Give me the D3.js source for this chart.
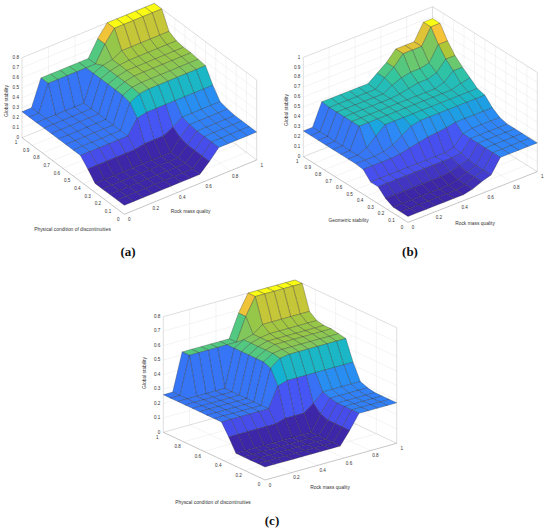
<!DOCTYPE html>
<html><head><meta charset="utf-8">
<script src="https://cdn.jsdelivr.net/npm/d3@7"></script>
<style>body{margin:0;background:#fff}svg{display:block}</style>
</head><body><svg id="fig" width="550" height="532"></svg>
<script>
// grid of the fuzzy surface (15 x 15 points, gensurf default)
const gridPts = [0, 0.0714, 0.1429, 0.2143, 0.2857, 0.3571, 0.4286, 0.5, 0.5714, 0.6429, 0.7143, 0.7857, 0.8571, 0.9286, 1];

// rows = second input (0 -> 1), columns = rock mass quality (0 -> 1)
const stabilityA = [
  [0.09,0.09,0.09,0.09,0.09,0.09,0.09,0.09,0.09,0.18,0.28,0.28,0.28,0.28,0.28],
  [0.09,0.09,0.09,0.09,0.09,0.09,0.09,0.09,0.09,0.18,0.28,0.28,0.28,0.28,0.28],
  [0.09,0.09,0.09,0.09,0.09,0.09,0.09,0.09,0.09,0.18,0.28,0.28,0.28,0.28,0.28],
  [0.09,0.09,0.09,0.09,0.09,0.09,0.09,0.09,0.09,0.18,0.28,0.28,0.28,0.28,0.28],
  [0.09,0.09,0.09,0.09,0.09,0.09,0.09,0.09,0.09,0.20,0.29,0.29,0.29,0.29,0.29],
  [0.18,0.18,0.18,0.18,0.18,0.18,0.20,0.20,0.20,0.25,0.31,0.31,0.31,0.31,0.31],
  [0.26,0.26,0.26,0.26,0.26,0.26,0.40,0.42,0.42,0.42,0.42,0.42,0.42,0.42,0.42],
  [0.26,0.26,0.26,0.26,0.26,0.26,0.50,0.55,0.56,0.56,0.56,0.56,0.56,0.56,0.56],
  [0.26,0.26,0.26,0.26,0.26,0.26,0.52,0.56,0.57,0.57,0.57,0.57,0.57,0.57,0.57],
  [0.26,0.26,0.26,0.26,0.26,0.26,0.52,0.56,0.58,0.58,0.58,0.58,0.58,0.58,0.58],
  [0.26,0.26,0.26,0.26,0.26,0.26,0.52,0.56,0.58,0.58,0.58,0.58,0.58,0.58,0.58],
  [0.26,0.26,0.26,0.26,0.26,0.26,0.52,0.56,0.58,0.59,0.59,0.59,0.59,0.59,0.59],
  [0.26,0.26,0.26,0.26,0.26,0.26,0.52,0.56,0.58,0.63,0.63,0.63,0.63,0.63,0.63],
  [0.26,0.26,0.52,0.52,0.52,0.52,0.52,0.52,0.68,0.80,0.80,0.80,0.80,0.80,0.80],
  [0.26,0.26,0.52,0.52,0.52,0.52,0.52,0.52,0.68,0.80,0.80,0.80,0.80,0.80,0.80]
];

const stabilityB = [
  [0.06,0.06,0.06,0.06,0.06,0.06,0.06,0.08,0.12,0.15,0.29,0.29,0.29,0.29,0.29],
  [0.06,0.06,0.06,0.06,0.06,0.06,0.06,0.08,0.12,0.15,0.29,0.29,0.29,0.29,0.29],
  [0.06,0.06,0.06,0.06,0.06,0.06,0.06,0.08,0.12,0.15,0.29,0.29,0.29,0.29,0.29],
  [0.10,0.10,0.10,0.10,0.10,0.10,0.10,0.11,0.14,0.16,0.29,0.29,0.29,0.29,0.29],
  [0.17,0.17,0.17,0.17,0.17,0.17,0.17,0.17,0.17,0.18,0.29,0.29,0.29,0.29,0.29],
  [0.17,0.17,0.17,0.17,0.17,0.17,0.17,0.17,0.17,0.19,0.29,0.31,0.31,0.31,0.31],
  [0.25,0.25,0.25,0.25,0.26,0.28,0.30,0.32,0.33,0.34,0.36,0.36,0.36,0.36,0.36],
  [0.26,0.26,0.26,0.27,0.30,0.36,0.42,0.44,0.44,0.44,0.44,0.44,0.44,0.44,0.44],
  [0.26,0.26,0.30,0.38,0.46,0.46,0.46,0.46,0.46,0.46,0.46,0.46,0.46,0.46,0.46],
  [0.26,0.26,0.47,0.47,0.47,0.47,0.47,0.47,0.47,0.47,0.47,0.47,0.47,0.50,0.52],
  [0.26,0.26,0.47,0.47,0.47,0.47,0.47,0.47,0.47,0.47,0.47,0.47,0.50,0.58,0.58],
  [0.26,0.26,0.47,0.47,0.47,0.47,0.47,0.47,0.48,0.50,0.52,0.52,0.55,0.65,0.65],
  [0.26,0.26,0.47,0.47,0.47,0.47,0.47,0.47,0.52,0.56,0.58,0.58,0.60,0.75,0.75],
  [0.26,0.26,0.47,0.47,0.47,0.47,0.47,0.47,0.55,0.62,0.72,0.72,0.72,0.88,0.88],
  [0.26,0.26,0.48,0.48,0.48,0.48,0.48,0.48,0.55,0.62,0.72,0.72,0.72,0.88,0.88]
];

const xTicks = [0, 0.2, 0.4, 0.6, 0.8, 1];
const yTicksFine = [0, 0.1, 0.2, 0.3, 0.4, 0.5, 0.6, 0.7, 0.8, 0.9, 1];
const yTicksCoarse = [0, 0.2, 0.4, 0.6, 0.8, 1];
const zTicksA = [0, 0.1, 0.2, 0.3, 0.4, 0.5, 0.6, 0.7, 0.8];
const zTicksB = [0, 0.1, 0.2, 0.3, 0.4, 0.5, 0.6, 0.7, 0.8, 0.9, 1];

const xTitle = 'Rock mass quality';
const zTitle = 'Global stability';
const yTitles = ['Physical condition of discontinuities', 'Geometric stability', 'Physcal condition of discontinuities'];
const captions = ['(a)', '(b)', '(c)'];

const PARULA = ['#3e26a8', '#4852f4', '#2e87f7', '#12b1d6', '#37c897', '#abc739', '#fec338', '#f9fb15'];

const panels = [
  { data: stabilityA, yTicks: yTicksFine, zTicks: zTicksA, zMax: 0.8, yTitle: yTitles[0], caption: captions[0],
    o: [124.3, 214.3], ex: [132.4, -54.3], ey: [-102.3, -76.6], zPx: 100,
    zLab: [7, 101], xLab: [190.5, 211.5], yLab: [72.5, 229.5], cap: [128, 256] },
  { data: stabilityB, yTicks: yTicksFine, zTicks: zTicksB, zMax: 1, yTitle: yTitles[1], caption: captions[1],
    o: [408, 222.4], ex: [129.3, -50.7], ey: [-104.7, -65.7], zPx: 99.3,
    zLab: [286.7, 110], xLab: [475, 223.3], yLab: [348.5, 220.5], cap: [410, 256] },
  { data: stabilityA, yTicks: yTicksCoarse, zTicks: zTicksA, zMax: 0.8, yTitle: yTitles[2], caption: captions[2],
    o: [265, 480], ex: [131.7, -36.7], ey: [-101.7, -47.7], zPx: 144.5,
    zLab: [145, 373], xLab: [330, 488], yLab: [213, 502.5], cap: [272, 525] }
];

const svg = d3.select('#fig');
const FONT = '"Liberation Sans", Arial, sans-serif';

function drawPanel(cfg) {
  const g = svg.append('g');
  const sx = d3.scaleLinear().domain([0, 1]).range([0, 1]);
  const sy = d3.scaleLinear().domain([0, 1]).range([0, 1]);
  const sz = d3.scaleLinear().domain([0, cfg.zMax]).range([0, cfg.zPx * cfg.zMax]);
  const P = (x, y, z) => [
    cfg.o[0] + cfg.ex[0] * sx(x) + cfg.ey[0] * sy(y),
    cfg.o[1] + cfg.ex[1] * sx(x) + cfg.ey[1] * sy(y) - sz(z)
  ];
  const line = (a, b, col, w) => {
    const p = P(...a), q = P(...b);
    g.append('line').attr('x1', p[0]).attr('y1', p[1]).attr('x2', q[0]).attr('y2', q[1])
      .attr('stroke', col).attr('stroke-width', w);
  };
  const zm = cfg.zMax;

  // back planes grid + floor grid
  const gc = '#e4e4e4';
  cfg.zTicks.forEach(z => { if (z > 0 && z < zm) { line([0, 1, z], [1, 1, z], gc, 0.4); line([1, 0, z], [1, 1, z], gc, 0.4); } });
  xTicks.forEach(x => { if (x > 0 && x < 1) { line([x, 1, 0], [x, 1, zm], gc, 0.4); line([x, 0, 0], [x, 1, 0], gc, 0.4); } });
  cfg.yTicks.forEach(y => { if (y > 0 && y < 1) { line([1, y, 0], [1, y, zm], gc, 0.4); line([0, y, 0], [1, y, 0], gc, 0.4); } });

  // box (back style)
  const bc = '#bdbdbd';
  line([0, 1, 0], [0, 1, zm], bc, 0.5);
  line([0, 1, zm], [1, 1, zm], bc, 0.5);
  line([1, 1, 0], [1, 1, zm], bc, 0.5);
  line([1, 1, zm], [1, 0, zm], bc, 0.5);
  line([1, 0, 0], [1, 0, zm], bc, 0.5);
  line([0, 1, 0], [1, 1, 0], bc, 0.5);
  line([1, 1, 0], [1, 0, 0], bc, 0.5);
  line([0, 0, 0], [1, 0, 0], '#8c8c8c', 0.5);
  line([0, 0, 0], [0, 1, 0], '#8c8c8c', 0.5);

  // surface, flat faces coloured by their first vertex
  const data = cfg.data;
  const flat = data.flat();
  const zmin = d3.min(flat), zmax = d3.max(flat);
  const color = d3.scaleLinear().domain(PARULA.map((c, k) => zmin + (zmax - zmin) * k / (PARULA.length - 1)))
    .range(PARULA).interpolate(d3.interpolateRgb).clamp(true);
  const dy = -cfg.ex[0] / cfg.ey[0];
  const cells = [];
  const n = gridPts.length;
  for (let j = 0; j < n - 1; j++) {
    for (let i = 0; i < n - 1; i++) {
      const c = [[i, j], [i + 1, j], [i + 1, j + 1], [i, j + 1]];
      cells.push({
        pts: c.map(([a, b]) => P(gridPts[a], gridPts[b], data[b][a])),
        z: data[j][i],
        depth: (gridPts[i] + gridPts[i + 1]) + dy * (gridPts[j] + gridPts[j + 1])
      });
    }
  }
  cells.sort((a, b) => b.depth - a.depth);
  g.append('g').selectAll('path').data(cells).join('path')
    .attr('d', d => 'M' + d.pts.map(p => p[0].toFixed(2) + ',' + p[1].toFixed(2)).join('L') + 'Z')
    .attr('fill', d => color(d.z))
    .attr('stroke', '#202020').attr('stroke-width', 0.28).attr('stroke-linejoin', 'round');

  // tick labels
  const tf = 4.6, tc = '#333';
  const lab = (p, txt, anchor, dx, dyy) => g.append('text').attr('x', p[0] + dx).attr('y', p[1] + dyy)
    .attr('text-anchor', anchor).attr('dominant-baseline', 'middle')
    .attr('font-family', FONT).attr('font-size', tf).attr('fill', tc).text(txt);
  cfg.zTicks.forEach(z => lab(P(0, 1, z), String(z), 'end', -3, 0));
  xTicks.forEach(x => lab(P(x, 0, 0), String(x), 'middle', 5, 5.5));
  cfg.yTicks.forEach(y => lab(P(0, y, 0), String(y), 'middle', -6, 5));

  // axis titles
  const title = (pos, txt, rot) => g.append('text')
    .attr('transform', 'translate(' + pos[0] + ',' + pos[1] + ')' + (rot ? ' rotate(' + rot + ')' : ''))
    .attr('text-anchor', 'middle').attr('dominant-baseline', 'middle')
    .attr('font-family', FONT).attr('font-size', 4.9).attr('fill', tc).text(txt);
  title(cfg.zLab, zTitle, -90);
  title(cfg.xLab, xTitle, 0);
  title(cfg.yLab, cfg.yTitle, 0);

  svg.append('text').attr('x', cfg.cap[0]).attr('y', cfg.cap[1])
    .attr('text-anchor', 'middle').attr('font-family', '"Liberation Serif", "Times New Roman", serif')
    .attr('font-weight', 'bold').attr('font-size', 13).attr('fill', '#111').text(cfg.caption);
}

panels.forEach(drawPanel);
</script></body></html>
